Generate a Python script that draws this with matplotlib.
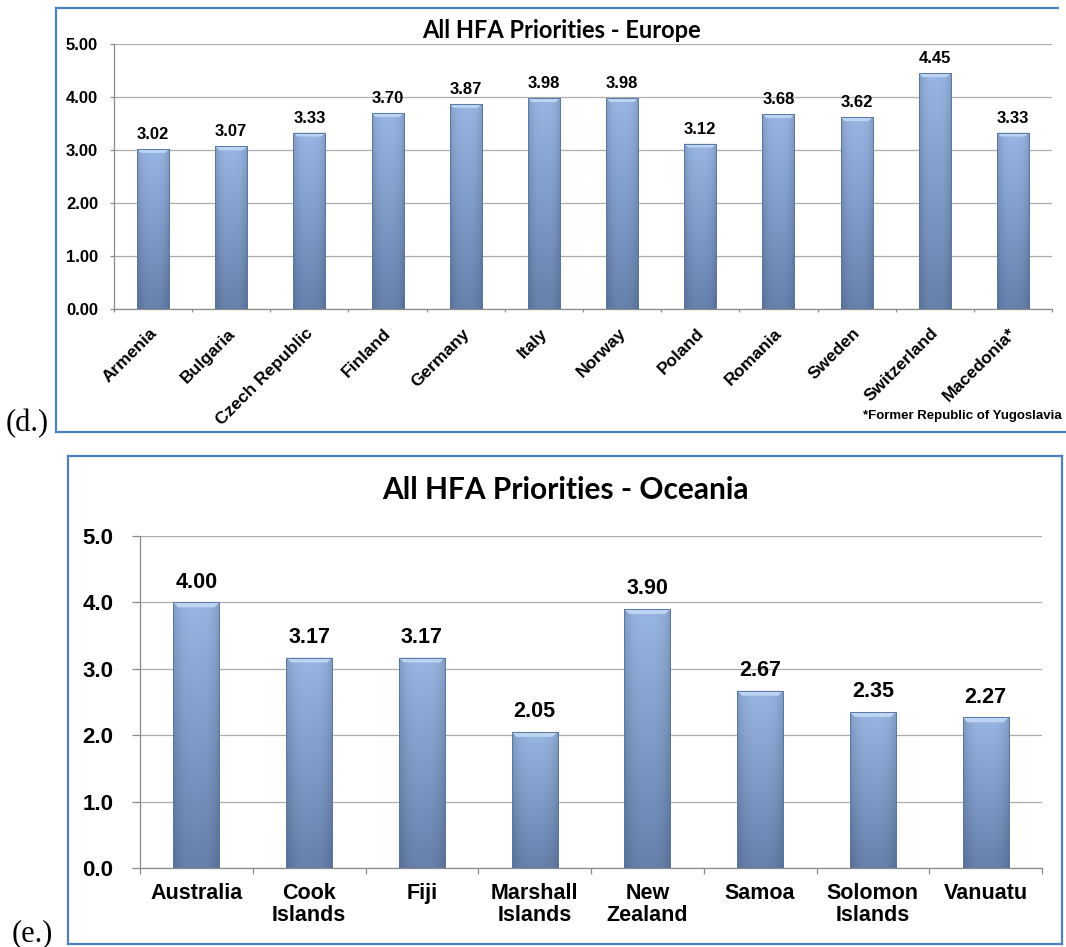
import matplotlib
matplotlib.use("Agg")
import matplotlib.pyplot as plt
import matplotlib.transforms as mtransforms
import numpy as np
from matplotlib.colors import to_rgb
from matplotlib.lines import Line2D
from matplotlib.patches import Polygon

# Europe panel data
europe_countries = ["Armenia", "Bulgaria", "Czech Republic", "Finland", "Germany", "Italy",
                    "Norway", "Poland", "Romania", "Sweden", "Switzerland", "Macedonia*"]
europe_scores = [3.02, 3.07, 3.33, 3.70, 3.87, 3.98, 3.98, 3.12, 3.68, 3.62, 4.45, 3.33]
europe_yticks = [0, 1, 2, 3, 4, 5]

# Oceania panel data
oceania_countries = ["Australia", "Cook\nIslands", "Fiji", "Marshall\nIslands", "New\nZealand",
                     "Samoa", "Solomon\nIslands", "Vanuatu"]
oceania_scores = [4.00, 3.17, 3.17, 2.05, 3.90, 2.67, 2.35, 2.27]
oceania_yticks = [0, 1, 2, 3, 4, 5]

W, H = 1066, 947
LABEL_FONT = ["Liberation Sans", "DejaVu Sans"]
TITLE_FONT = ["Lato", "DejaVu Sans"]
GRID = "#ADADAD"
AXIS = "#8A8A8A"
BORDER = "#4F81BD"

fig = plt.figure(figsize=(W / 100, H / 100), dpi=100)


def add_axes_px(left, right, top, bottom):
    return fig.add_axes([left / W, 1 - bottom / H, (right - left) / W, (bottom - top) / H])


def bar_gradient():
    top = np.array(to_rgb("#98B6E3"))
    bot = np.array(to_rgb("#6781AD"))
    t = np.linspace(0, 1, 80)[:, None, None]
    u = np.linspace(0, 1, 24)[None, :, None]
    img = bot + (top - bot) * t
    shade = 1 - 0.14 * np.abs(2 * u - 1) ** 3
    return np.clip(img * shade, 0, 1)


def draw_bars(ax, values, width, ax_w_px, ax_h_px, bevel_px):
    x = np.arange(len(values))
    bars = ax.bar(x, values, width=width, color="none", edgecolor="#5A77A3",
                  linewidth=0.7, zorder=3)
    grad = bar_gradient()
    dx = len(values) / ax_w_px
    dy = 5.0 / ax_h_px
    for b in bars:
        x0, w, h = b.get_x(), b.get_width(), b.get_height()
        im = ax.imshow(grad, extent=(x0, x0 + w, 0, h), aspect="auto", origin="lower",
                       interpolation="bilinear", zorder=2.5)
        im.set_clip_path(b)
        ix, iy = bevel_px * dx, bevel_px * dy
        bevel = Polygon([(x0, h), (x0 + w, h), (x0 + w - ix, h - iy), (x0 + ix, h - iy)],
                        closed=True, facecolor="#BCD3F2", edgecolor="none", zorder=2.8)
        ax.add_patch(bevel)
    return bars


def style_axes(ax, n, tick_fs, tick_len, tick_pad, fmt):
    ax.set_xlim(-0.5, n - 0.5)
    ax.set_ylim(0, 5)
    ax.set_yticks(europe_yticks)
    ax.set_yticklabels([fmt.format(v) for v in europe_yticks], fontsize=tick_fs,
                       fontweight="bold", family=LABEL_FONT)
    ax.yaxis.grid(True, color=GRID, linewidth=0.9, zorder=0)
    ax.set_axisbelow(True)
    for s in ["top", "right"]:
        ax.spines[s].set_visible(False)
    for s in ["left", "bottom"]:
        ax.spines[s].set_color(AXIS)
        ax.spines[s].set_linewidth(0.9)
    ax.tick_params(axis="y", length=tick_len, color=AXIS, width=0.9, pad=tick_pad)
    ax.set_xticks(np.arange(n + 1) - 0.5)
    ax.set_xticklabels([])
    ax.tick_params(axis="x", which="major", length=tick_len * 0.75, color=AXIS, width=0.9)


# ---------------- Europe panel ----------------
ax1 = add_axes_px(114, 1052, 44, 309)
draw_bars(ax1, europe_scores, 0.41, 938, 265, 4)
style_axes(ax1, len(europe_scores), 12, 3, 8.5, "{:.2f}")
ax1.set_xticks(np.arange(len(europe_countries)), europe_countries, minor=True)
ax1.tick_params(axis="x", which="minor", length=0, pad=12)
shift = mtransforms.ScaledTranslation(-4 / 100, 0, fig.dpi_scale_trans)
for lab in ax1.get_xticklabels(minor=True):
    lab.set_rotation(45)
    lab.set_ha("right")
    lab.set_va("top")
    lab.set_rotation_mode("anchor")
    lab.set_fontsize(12.5)
    lab.set_fontweight("bold")
    lab.set_family(LABEL_FONT)
    lab.set_transform(lab.get_transform() + shift)
for i, v in enumerate(europe_scores):
    ax1.annotate(f"{v:.2f}", (i, v), xytext=(0, 5), textcoords="offset points",
                 ha="center", va="bottom", fontsize=12, fontweight="bold", family=LABEL_FONT)

fig.text(561 / W, 1 - 31 / H, "All HFA Priorities - Europe", ha="center", va="center",
         fontsize=17, fontweight="bold", family=TITLE_FONT)
fig.text(1062 / W, 1 - 416 / H, "*Former Republic of Yugoslavia", ha="right", va="center",
         fontsize=9.5, fontweight="bold", family=LABEL_FONT)
fig.text(6 / W, 1 - 424 / H, "(d.)", ha="left", va="center", fontsize=22,
         family=["Liberation Serif", "DejaVu Serif"])

# ---------------- Oceania panel ----------------
ax2 = add_axes_px(140, 1042, 536, 868)
draw_bars(ax2, oceania_scores, 0.41, 902, 332, 5)
style_axes(ax2, len(oceania_scores), 16, 6, 13, "{:.1f}")
ax2.set_yticks(oceania_yticks)
ax2.set_xticks(np.arange(len(oceania_countries)), oceania_countries, minor=True)
ax2.tick_params(axis="x", which="minor", length=0, pad=11)
for lab in ax2.get_xticklabels(minor=True):
    lab.set_fontsize(15.5)
    lab.set_fontweight("bold")
    lab.set_family(LABEL_FONT)
    lab.set_linespacing(1.05)
for i, v in enumerate(oceania_scores):
    ax2.annotate(f"{v:.2f}", (i, v), xytext=(0, 7), textcoords="offset points",
                 ha="center", va="bottom", fontsize=15.5, fontweight="bold", family=LABEL_FONT)

fig.text(565 / W, 1 - 490 / H, "All HFA Priorities - Oceania", ha="center", va="center",
         fontsize=21.5, fontweight="bold", family=TITLE_FONT)
fig.text(12 / W, 1 - 934 / H, "(e.)", ha="left", va="center", fontsize=22,
         family=["Liberation Serif", "DejaVu Serif"])

# panel borders
def hline(x0, x1, y):
    fig.add_artist(Line2D([x0 / W, x1 / W], [1 - y / H, 1 - y / H], color=BORDER, lw=1.6))


def vline(x, y0, y1):
    fig.add_artist(Line2D([x / W, x / W], [1 - y0 / H, 1 - y1 / H], color=BORDER, lw=1.6))


hline(56, 1058, 8)
hline(56, 1066, 432)
vline(56, 8, 432)
hline(68, 1062, 456)
hline(68, 1062, 944)
vline(68, 456, 944)
vline(1062, 456, 944)

fig.savefig("out.png", dpi=100)
plt.close(fig)
